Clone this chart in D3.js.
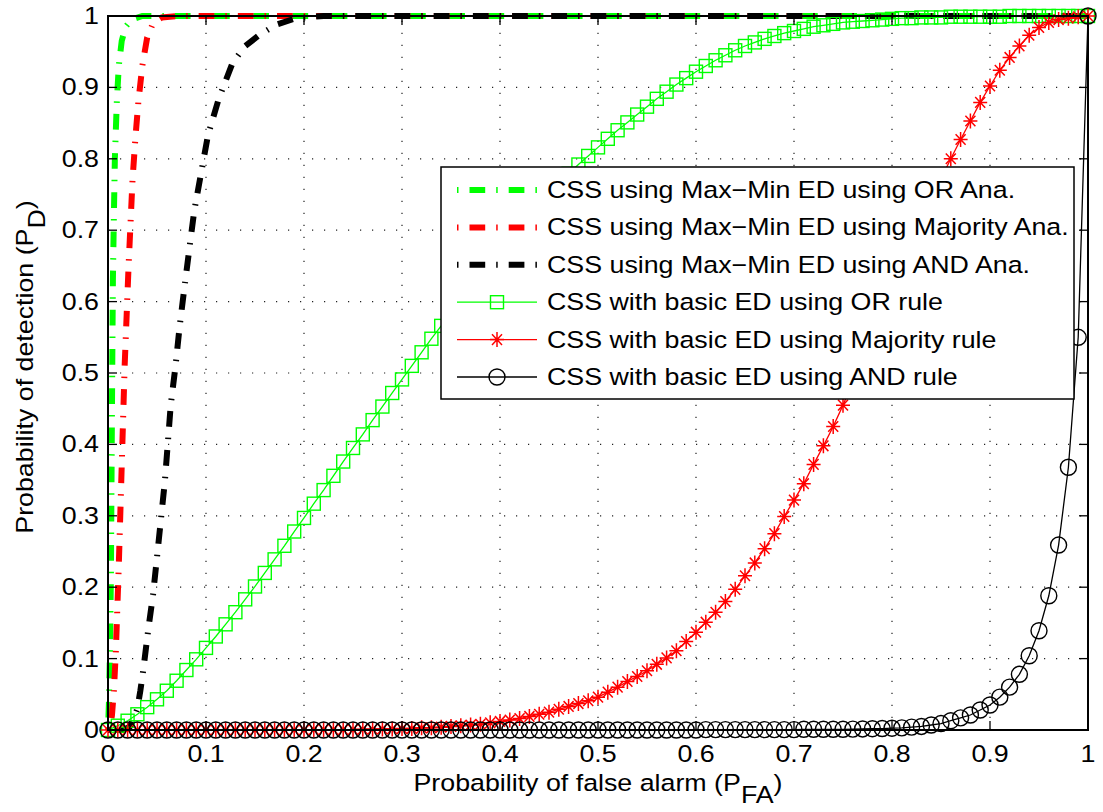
<html>
<head>
    <style>
        body { margin: 0; background: #fff; }
    </style>
    <script src="https://d3js.org/d3.v7.min.js"></script>
</head>
<body>
    <svg width=1103 height=812></svg>
</body>
<script>

    // probability of false alarm, one marker every 0.01
    const pfa = [0,0.01,0.02,0.03,0.04,0.05,0.06,0.07,0.08,0.09,
        0.1,0.11,0.12,0.13,0.14,0.15,0.16,0.17,0.18,0.19,
        0.2,0.21,0.22,0.23,0.24,0.25,0.26,0.27,0.28,0.29,
        0.3,0.31,0.32,0.33,0.34,0.35,0.36,0.37,0.38,0.39,
        0.4,0.41,0.42,0.43,0.44,0.45,0.46,0.47,0.48,0.49,
        0.5,0.51,0.52,0.53,0.54,0.55,0.56,0.57,0.58,0.59,
        0.6,0.61,0.62,0.63,0.64,0.65,0.66,0.67,0.68,0.69,
        0.7,0.71,0.72,0.73,0.74,0.75,0.76,0.77,0.78,0.79,
        0.8,0.81,0.82,0.83,0.84,0.85,0.86,0.87,0.88,0.89,
        0.9,0.91,0.92,0.93,0.94,0.95,0.96,0.97,0.98,0.99,
        1];

    // basic ED, OR rule (green squares)
    const pdOrBasic = [0,0.006,0.013,0.022,0.032,0.043,0.055,0.069,0.084,0.099,
        0.115,0.131,0.148,0.165,0.183,0.201,0.220,0.239,0.258,0.278,
        0.297,0.317,0.336,0.356,0.376,0.395,0.414,0.434,0.453,0.472,
        0.491,0.510,0.529,0.548,0.566,0.585,0.603,0.621,0.639,0.656,
        0.673,0.689,0.705,0.721,0.736,0.751,0.765,0.779,0.792,0.804,
        0.816,0.828,0.840,0.851,0.862,0.873,0.884,0.894,0.904,0.913,
        0.922,0.930,0.938,0.945,0.952,0.958,0.963,0.968,0.972,0.976,
        0.979,0.982,0.985,0.987,0.989,0.991,0.992,0.993,0.994,0.995,
        0.996,0.997,0.997,0.998,0.998,0.998,0.999,0.999,0.999,0.999,
        0.999,0.999,1,1,1,1,1,1,1,1,
        1];

    // basic ED, majority rule (red stars)
    const pdMajBasic = [0,0,0,0,0,0,0,0,0,0,
        0,0,0,0,0,0,0,0,0,0,
        0,0.0005,0.0005,0.0005,0.0005,0.0005,0.001,0.001,0.0015,0.0015,
        0.002,0.002,0.003,0.003,0.004,0.005,0.006,0.007,0.008,0.010,
        0.012,0.014,0.016,0.019,0.022,0.025,0.029,0.033,0.037,0.041,
        0.046,0.053,0.060,0.068,0.075,0.083,0.092,0.101,0.111,0.124,
        0.137,0.151,0.165,0.180,0.197,0.216,0.234,0.254,0.275,0.299,
        0.322,0.345,0.372,0.398,0.425,0.455,0.487,0.520,0.553,0.586,
        0.619,0.651,0.683,0.714,0.744,0.772,0.800,0.827,0.853,0.879,
        0.902,0.924,0.942,0.958,0.973,0.984,0.991,0.995,0.997,0.999,
        1];

    // basic ED, AND rule (black circles)
    const pdAndBasic = [0,0,0,0,0,0,0,0,0,0,
        0,0,0,0,0,0,0,0,0,0,
        0,0,0,0,0,0,0,0,0,0,
        0,0,0,0,0,0,0,0,0,0,
        0,0,0,0,0,0,0,0,0,0,
        0,0,0,0,0,0,0,0,0,0,
        0,0.0005,0.0005,0.0005,0.0005,0.0005,0.0005,0.0005,0.0005,0.0005,
        0.0005,0.001,0.001,0.001,0.001,0.001,0.0012,0.0015,0.0018,0.002,
        0.0025,0.003,0.004,0.005,0.007,0.009,0.013,0.017,0.021,0.028,
        0.035,0.046,0.060,0.078,0.104,0.139,0.188,0.259,0.368,0.550,
        1];

    // Max-Min ED analytical curves (pf, pd pairs)
    const pfOrAna = [0,0.001,0.002,0.003,0.0035,0.004,0.0045,0.005,0.006,0.007,0.009,0.011,0.014,0.018,0.024,0.035,1];
    const pdOrAna = [0,0.04,0.11,0.22,0.33,0.44,0.54,0.63,0.72,0.80,0.88,0.93,0.965,0.985,0.995,1,1];

    const pfMajAna = [0,0.002,0.004,0.006,0.008,0.0095,0.011,0.0125,0.014,0.0155,0.017,0.019,0.021,0.023,0.025,0.028,0.031,0.035,0.04,0.046,0.055,0.07,1];
    const pdMajAna = [0,0.005,0.02,0.055,0.11,0.17,0.23,0.30,0.37,0.44,0.51,0.58,0.65,0.71,0.77,0.83,0.88,0.93,0.97,0.99,0.998,1,1];

    const pfAndAna = [0,0.015,0.022,0.026,0.03,0.033,0.036,0.041,0.046,0.05,0.054,0.058,0.061,0.064,0.069,0.073,0.078,0.083,0.088,0.095,0.102,0.113,0.127,0.14,0.155,0.172,0.192,0.22,1];
    const pdAndAna = [0,0,0.004,0.015,0.03,0.055,0.084,0.14,0.19,0.242,0.295,0.348,0.401,0.455,0.511,0.564,0.62,0.674,0.727,0.78,0.833,0.884,0.934,0.958,0.974,0.988,0.997,1,1];

    const xTicks = [0,0.1,0.2,0.3,0.4,0.5,0.6,0.7,0.8,0.9,1];
    const yTicks = [0,0.1,0.2,0.3,0.4,0.5,0.6,0.7,0.8,0.9,1];

    const legendLabels = [
        "CSS using Max\u2212Min ED using OR Ana.",
        "CSS using Max\u2212Min ED using Majority Ana.",
        "CSS using Max\u2212Min ED using AND Ana.",
        "CSS with basic ED using OR rule",
        "CSS with basic ED using Majority rule",
        "CSS with basic ED using AND rule"
    ];

    const fontSize = 23.5;
    const stretch = 1.14;   // matlab helvetica came out wide

    let x = d3.scaleLinear().domain([0, 1]).range([108, 1088]);
    let y = d3.scaleLinear().domain([0, 1]).range([730, 16]);

    const svg = d3.select("svg")
        .style("font-family", "'Liberation Sans', Arial, sans-serif")
        .style("font-size", fontSize + "px");

    // text helper, rot = -90 for the y label
    function addText(g, px, py, str, anchor, rot) {
        return g.append("text")
            .attr("transform", `translate(${px},${py})` + (rot ? ` rotate(${rot})` : "") + ` scale(${stretch},1)`)
            .attr("text-anchor", anchor)
            .attr("fill", "#000")
            .text(str);
    }

    // dotted grid
    let grid = svg.append("g")
        .attr("stroke", "#222")
        .attr("stroke-width", 1.2)
        .attr("stroke-dasharray", "1.2,10.8");
    grid.selectAll("line.v")
        .data(xTicks.slice(1, -1))
        .join("line")
            .attr("x1", d => x(d)).attr("x2", d => x(d))
            .attr("y1", y(0)).attr("y2", y(1));
    grid.selectAll("line.h")
        .data(yTicks.slice(1, -1))
        .join("line")
            .attr("class", "h")
            .attr("y1", d => y(d)).attr("y2", d => y(d))
            .attr("x1", x(0)).attr("x2", x(1));

    // analytical curves, thick dash-dot
    const dashDot = "1.5,11,15.7,11";
    let anaLine = d3.line().x(d => x(d[0])).y(d => y(d[1]));
    const anaSeries = [
        { pf: pfOrAna, pd: pdOrAna, color: "#00ff00" },
        { pf: pfMajAna, pd: pdMajAna, color: "#ff0000" },
        { pf: pfAndAna, pd: pdAndAna, color: "#000000" }
    ];
    anaSeries.forEach(s => {
        svg.append("path")
            .datum(d3.zip(s.pf, s.pd))
            .attr("fill", "none")
            .attr("stroke", s.color)
            .attr("stroke-width", 6)
            .attr("stroke-dasharray", dashDot)
            .attr("d", anaLine);
    });

    // marker shapes
    const starPath = "M-7,0H7M0,-7.5V7.5M-5,-5.3L5,5.3M-5,5.3L5,-5.3";
    function drawMarker(g, kind, color) {
        if (kind === "square") {
            g.append("rect").attr("x", -6.5).attr("y", -6.5).attr("width", 13).attr("height", 13)
                .attr("fill", "none").attr("stroke", color).attr("stroke-width", 1.4);
        } else if (kind === "star") {
            g.append("path").attr("d", starPath).attr("fill", "none")
                .attr("stroke", color).attr("stroke-width", 1.5);
        } else {
            g.append("circle").attr("r", 8).attr("fill", "none")
                .attr("stroke", color).attr("stroke-width", 1.4);
        }
    }

    const basicSeries = [
        { pd: pdOrBasic, color: "#00ff00", marker: "square" },
        { pd: pdMajBasic, color: "#ff0000", marker: "star" },
        { pd: pdAndBasic, color: "#000000", marker: "circle" }
    ];
    let basicLine = d3.line().x(d => x(d[0])).y(d => y(d[1]));
    basicSeries.forEach(s => {
        let pts = d3.zip(pfa, s.pd);
        svg.append("path")
            .datum(pts)
            .attr("fill", "none")
            .attr("stroke", s.color)
            .attr("stroke-width", 1.3)
            .attr("d", basicLine);
        svg.append("g")
            .selectAll("g")
            .data(pts)
            .join("g")
                .attr("transform", d => `translate(${x(d[0])},${y(d[1])})`)
                .each(function () { drawMarker(d3.select(this), s.marker, s.color); });
    });

    // axes box and inward ticks on all sides
    let ax = svg.append("g").attr("stroke", "#000");
    ax.append("rect")
        .attr("x", x(0)).attr("y", y(1))
        .attr("width", x(1) - x(0)).attr("height", y(0) - y(1))
        .attr("fill", "none").attr("stroke-width", 2);
    const tl = 9;
    xTicks.forEach(t => {
        ax.append("line").attr("x1", x(t)).attr("x2", x(t)).attr("y1", y(0)).attr("y2", y(0) - tl).attr("stroke-width", 1.3);
        ax.append("line").attr("x1", x(t)).attr("x2", x(t)).attr("y1", y(1)).attr("y2", y(1) + tl).attr("stroke-width", 1.3);
    });
    yTicks.forEach(t => {
        ax.append("line").attr("y1", y(t)).attr("y2", y(t)).attr("x1", x(0)).attr("x2", x(0) + tl).attr("stroke-width", 1.3);
        ax.append("line").attr("y1", y(t)).attr("y2", y(t)).attr("x1", x(1)).attr("x2", x(1) - tl).attr("stroke-width", 1.3);
    });

    // tick labels
    let labels = svg.append("g");
    xTicks.forEach(t => addText(labels, x(t), 762, d3.format("~g")(t), "middle"));
    yTicks.forEach(t => addText(labels, 99, y(t) + 8, d3.format("~g")(t), "end"));

    // axis titles with subscripts
    let xl = addText(labels, 598, 791, "", "middle");
    xl.append("tspan").text("Probability of false alarm (P");
    xl.append("tspan").attr("dy", 12).text("FA");
    xl.append("tspan").attr("dy", -12).text(")");

    let yl = addText(labels, 33, 367, "", "middle", -90);
    yl.append("tspan").text("Probability of detection (P");
    yl.append("tspan").attr("dy", 12).text("D");
    yl.append("tspan").attr("dy", -12).text(")");

    // legend
    let legend = svg.append("g");
    legend.append("rect")
        .attr("x", 441).attr("y", 167)
        .attr("width", 1074 - 441).attr("height", 399 - 167)
        .attr("fill", "#fff").attr("stroke", "#000").attr("stroke-width", 1.5);
    const rowY = d => 190 + d * 37.4;
    legendLabels.forEach((lab, i) => {
        let ly = rowY(i);
        if (i < 3) {
            legend.append("line")
                .attr("x1", 457).attr("x2", 537).attr("y1", ly).attr("y2", ly)
                .attr("stroke", anaSeries[i].color).attr("stroke-width", 6)
                .attr("stroke-dasharray", dashDot);
        } else {
            let s = basicSeries[i - 3];
            legend.append("line")
                .attr("x1", 457).attr("x2", 537).attr("y1", ly).attr("y2", ly)
                .attr("stroke", s.color).attr("stroke-width", 1.3);
            drawMarker(legend.append("g").attr("transform", `translate(497,${ly})`), s.marker, s.color);
        }
        addText(legend, 547, ly + 8, lab, "start");
    });

</script>
</html>
